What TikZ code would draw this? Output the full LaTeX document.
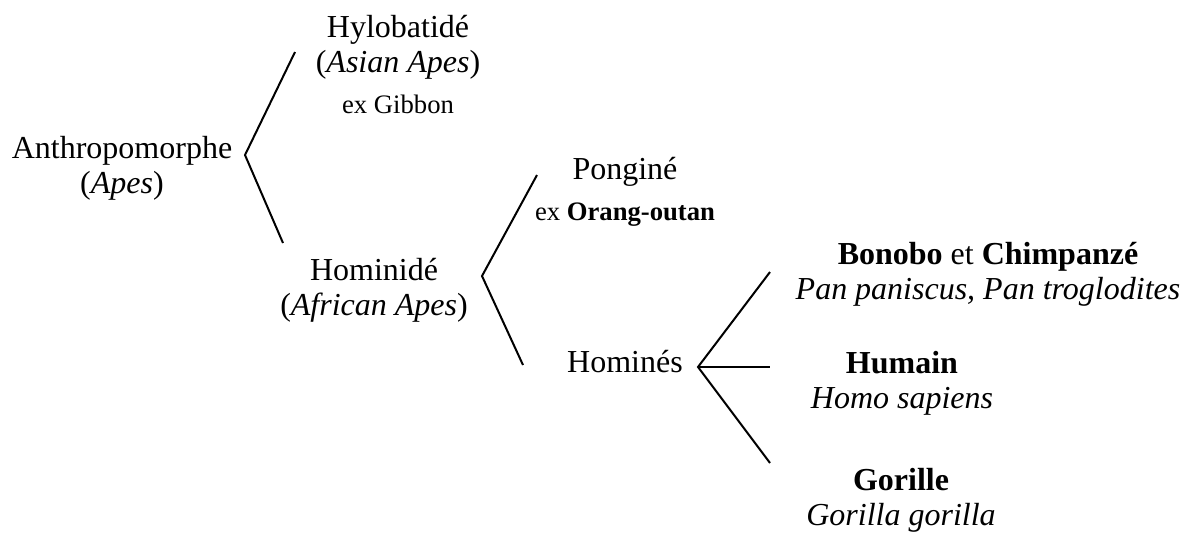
\documentclass[tikz,border=0pt]{standalone}
\usepackage{fontspec}
\setmainfont{Liberation Serif}
\usepackage{tikz}
\newcommand{\pxu}{0.375pt}
\newcommand{\exsize}{\fontsize{10}{12}\selectfont}

\begin{document}
\begin{tikzpicture}[taxon/.style={anchor=base, align=center, inner sep=0pt, font=\fontsize{12}{13.1}\selectfont}, branch/.style={draw, line width=0.75pt}]
    \useasboundingbox (0,0) rectangle (1189*\pxu,-533*\pxu);

    % Taxa (placed by the baseline of their last line)
    \node[taxon] (taxon-0) at (122*\pxu,-193*\pxu) {Anthropomorphe\\(\textit{Apes})};
    \node[taxon] (taxon-1-1) at (398*\pxu,-113*\pxu) {Hylobatidé\\(\textit{Asian Apes})\\[2.2pt]{\exsize ex Gibbon}};
    \node[taxon] (taxon-1-2) at (374*\pxu,-315*\pxu) {Hominidé\\(\textit{African Apes})};
    \node[taxon] (taxon-2-1) at (625*\pxu,-220*\pxu) {Ponginé\\[2pt]{\exsize ex \textbf{Orang-outan}}};
    \node[taxon] (taxon-2-2) at (625*\pxu,-372*\pxu) {Hominés};
    \node[taxon] (taxon-3-1) at (988*\pxu,-299*\pxu) {\textbf{Bonobo} et \textbf{Chimpanzé}\\\textit{Pan paniscus, Pan troglodites}};
    \node[taxon] (taxon-3-2) at (902*\pxu,-408*\pxu) {\textbf{Humain}\\\textit{Homo sapiens}};
    \node[taxon] (taxon-3-3) at (901*\pxu,-525*\pxu) {\textbf{Gorille}\\\textit{Gorilla gorilla}};

    % Forks
    \coordinate (fork-1) at (245*\pxu,-155*\pxu);
    \coordinate (fork-1-1) at (295*\pxu,-52*\pxu);
    \coordinate (fork-1-2) at (283*\pxu,-243*\pxu);
    \draw[branch] (fork-1-1) -- (fork-1) -- (fork-1-2);

    \coordinate (fork-2) at (482*\pxu,-276*\pxu);
    \coordinate (fork-2-1) at (537*\pxu,-175*\pxu);
    \coordinate (fork-2-2) at (523*\pxu,-365*\pxu);
    \draw[branch] (fork-2-1) -- (fork-2) -- (fork-2-2);

    \coordinate (fork-3) at (698*\pxu,-367*\pxu);
    \coordinate (fork-3-1) at (770*\pxu,-272*\pxu);
    \coordinate (fork-3-2) at (770*\pxu,-367*\pxu);
    \coordinate (fork-3-3) at (770*\pxu,-463*\pxu);
    \draw[branch] (fork-3-1) -- (fork-3) -- (fork-3-3);
    \draw[branch] (fork-3) -- (fork-3-2);

\end{tikzpicture}
\end{document}
